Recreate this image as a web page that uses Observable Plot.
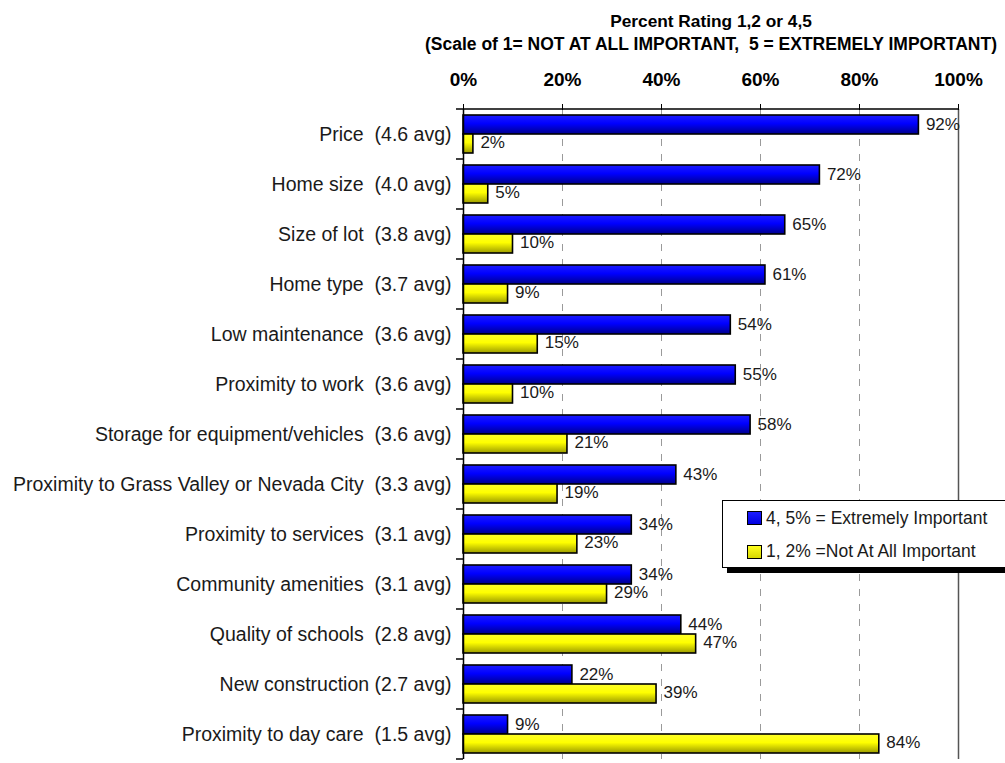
<!DOCTYPE html>
<html>
<head>
<meta charset="utf-8">
<script src="https://cdn.jsdelivr.net/npm/d3@7"></script>
<script src="https://cdn.jsdelivr.net/npm/@observablehq/plot@0.6"></script>
<style>
  html, body { margin: 0; padding: 0; background: #fff; overflow: hidden; }
  #chart { position: relative; width: 1005px; height: 763px; }
  #chart svg text { white-space: pre; }
  .legend {
    position: absolute; left: 722px; top: 500px; width: 320px; height: 66px;
    border: 1px solid #000; background: #fff; box-shadow: 5px 5px 0 #000;
    font-family: "Liberation Sans", Arial, sans-serif;
    font-size: 17.5px; line-height: 18px; color: #1a1a1a;
  }
  .legend .sw { position: absolute; left: 24px; width: 15px; height: 14px; box-sizing: border-box; border: 1.6px solid #000; }
  .legend .lbl { position: absolute; left: 43px; white-space: pre; }
</style>
</head>
<body>
<div id="chart"></div>
<script>
// Survey items, in the order they are listed
const categories = [
  "Price  (4.6 avg)",
  "Home size  (4.0 avg)",
  "Size of lot  (3.8 avg)",
  "Home type  (3.7 avg)",
  "Low maintenance  (3.6 avg)",
  "Proximity to work  (3.6 avg)",
  "Storage for equipment/vehicles  (3.6 avg)",
  "Proximity to Grass Valley or Nevada City  (3.3 avg)",
  "Proximity to services  (3.1 avg)",
  "Community amenities  (3.1 avg)",
  "Quality of schools  (2.8 avg)",
  "New construction (2.7 avg)",
  "Proximity to day care  (1.5 avg)"
];
// Percent rating 4 or 5 (extremely important)
const extremelyImportant = [92, 72, 65, 61, 54, 55, 58, 43, 34, 34, 44, 22, 9];
// Percent rating 1 or 2 (not at all important)
const notAtAllImportant = [2, 5, 10, 9, 15, 10, 21, 19, 23, 29, 47, 39, 84];
const xTicks = [0, 20, 40, 60, 80, 100];
const titleLines = [
  "Percent Rating 1,2 or 4,5",
  "(Scale of 1= NOT AT ALL IMPORTANT,  5 = EXTREMELY IMPORTANT)"
];
const legendLabels = ["4, 5% = Extremely Important", "1, 2% =Not At All Important"];

const FONT = '"Liberation Sans", Arial, sans-serif';

const rows = categories.map((cat, i) => ({cat, hi: extremelyImportant[i], lo: notAtAllImportant[i]}));

const chart = Plot.plot({
  width: 1005,
  height: 763,
  marginLeft: 463,
  marginRight: 47,
  marginTop: 109,
  marginBottom: 4,
  style: {background: "#fff", overflow: "visible", fontFamily: FONT},
  x: {domain: [0, 100], label: null},
  y: {type: "band", domain: categories, padding: 0, label: null},
  marks: [
    Plot.ruleX(xTicks.slice(1, -1), {stroke: "#9a9a9a", strokeWidth: 1, strokeDasharray: "7,8"}),
    Plot.ruleX([100], {stroke: "#555", strokeWidth: 1.5}),
    Plot.barX(rows, {y: "cat", x: "hi", fill: "url(#gradBlue)", stroke: "#000", strokeWidth: 1.6, insetTop: 6, insetBottom: 25}),
    Plot.barX(rows, {y: "cat", x: "lo", fill: "url(#gradYellow)", stroke: "#000", strokeWidth: 1.6, insetTop: 25, insetBottom: 6}),
    Plot.ruleX([0], {stroke: "#000", strokeWidth: 1.5}),
    Plot.text(rows, {y: "cat", x: "hi", text: d => d.hi + "%", dx: 7, dy: -10, textAnchor: "start",
      fontSize: 17, fontFamily: FONT, fill: "#1a1a1a"}),
    Plot.text(rows, {y: "cat", x: "lo", text: d => d.lo + "%", dx: 7, dy: 8.5, textAnchor: "start",
      fontSize: 17, fontFamily: FONT, fill: "#1a1a1a"}),
    Plot.axisX({anchor: "top", ticks: xTicks, tickSize: 6, tickPadding: 18, tickFormat: d => d + "%",
      fontSize: 19, fontWeight: "bold", fontFamily: FONT, fill: "#000", stroke: "#000"}),
    Plot.axisY({tickSize: 0, tickPadding: 12, fontSize: 19.5, fontFamily: FONT, fill: "#1a1a1a"}),
    Plot.text([titleLines[0]], {text: d => d, frameAnchor: "top", dy: -82.5, lineAnchor: "bottom",
      fontSize: 17.3, fontWeight: "bold", fontFamily: FONT, fill: "#000"}),
    Plot.text([titleLines[1]], {text: d => d, frameAnchor: "top", dy: -60, lineAnchor: "bottom",
      fontSize: 17.5, fontWeight: "bold", fontFamily: FONT, fill: "#000"})
  ]
});

// Shaded fills for the bars, a top border line and the category separator ticks
const svg = d3.select(chart);
const defs = svg.insert("defs", ":first-child");
function addGradient(id, stops) {
  const g = defs.append("linearGradient").attr("id", id).attr("x1", 0).attr("y1", 0).attr("x2", 0).attr("y2", 1);
  stops.forEach(([o, c]) => g.append("stop").attr("offset", o).attr("stop-color", c));
}
addGradient("gradBlue", [[0, "#1c1cff"], [0.45, "#0000ff"], [1, "#00008c"]]);
addGradient("gradYellow", [[0, "#ffff2a"], [0.45, "#ffff00"], [1, "#9c9c00"]]);

const sx = chart.scale("x");
const sy = chart.scale("y");
const x0 = sx.apply(0), x100 = sx.apply(100);
const bounds = categories.map(c => sy.apply(c));
bounds.push(bounds[bounds.length - 1] + sy.step);
const g = svg.append("g").attr("stroke", "#000").attr("stroke-width", 1.5);
g.append("line").attr("x1", x0 - 7).attr("x2", x100).attr("y1", bounds[0]).attr("y2", bounds[0]);
bounds.slice(1).forEach(y => g.append("line").attr("x1", x0 - 7).attr("x2", x0).attr("y1", y).attr("y2", y));

document.getElementById("chart").appendChild(chart);

// Legend box
const legend = d3.select("#chart").append("div").attr("class", "legend");
const swatchColors = [["#1c1cff", "#0000e0"], ["#ffff20", "#d8d800"]];
legendLabels.forEach((t, i) => {
  legend.append("div").attr("class", "sw")
    .style("top", (9.7 + i * 34.3) + "px")
    .style("background", `linear-gradient(${swatchColors[i][0]}, ${swatchColors[i][1]})`);
  legend.append("div").attr("class", "lbl").style("top", (7.5 + i * 33.4) + "px").text(t);
});
</script>
</body>
</html>
